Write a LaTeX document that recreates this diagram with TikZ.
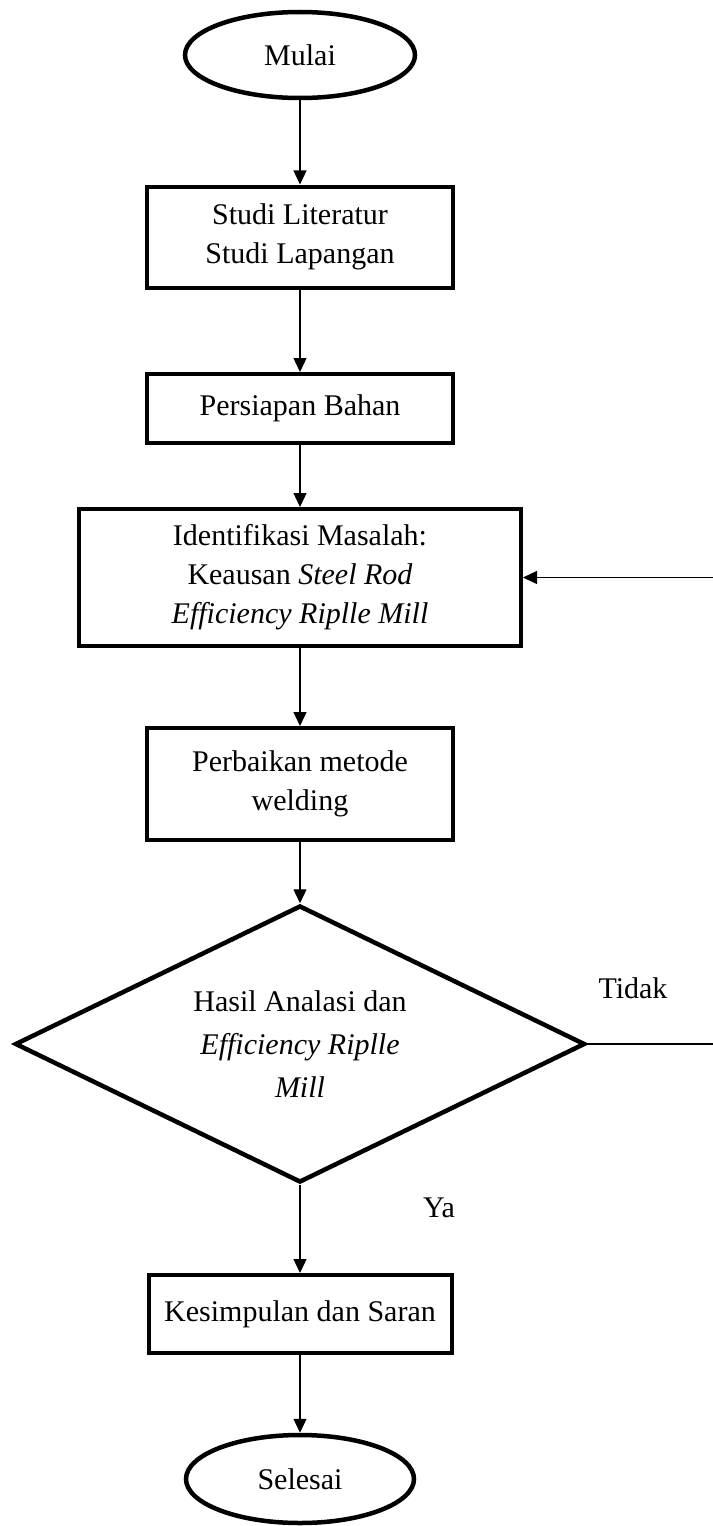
\documentclass[tikz,border=0pt]{standalone}
\usepackage{fontspec}
\setmainfont{Liberation Serif}
\usetikzlibrary{shapes.geometric,arrows.meta}
\begin{document}
\begin{tikzpicture}[x=1bp,y=-1bp,
  txt/.style={font=\fontsize{30bp}{39bp}\selectfont},
  box/.style={txt,draw,line width=4bp,rectangle,align=center,inner sep=0pt},
  term/.style={txt,draw,line width=4.5bp,ellipse,inner sep=0pt},
  decis/.style={draw,line width=4.5bp,diamond,aspect=2.04,inner sep=0pt,align=center,font=\fontsize{30bp}{43bp}\selectfont},
  flow/.style={line width=1.3bp,-{Triangle[width=13bp,length=14bp]}},
  plain/.style={line width=1.3bp}]
\useasboundingbox (0,0) rectangle (713,1526);
\node[term,minimum width=230bp,minimum height=86bp] (mulai) at (300,55) {Mulai};
\node[box,minimum width=306bp,minimum height=101bp] (b1) at (300,237) {Studi Literatur\\Studi Lapangan};
\node[box,minimum width=306bp,minimum height=69bp] (b2) at (300,408.5) {Persiapan Bahan};
\node[box,minimum width=442bp,minimum height=137bp] (b3) at (300,577.5) {Identifikasi Masalah:\\Keausan \textit{Steel Rod}\\\textit{Efficiency Riplle Mill}};
\node[box,minimum width=306bp,minimum height=112bp] (b4) at (300,784) {Perbaikan metode\\welding};
\node[decis,minimum width=570bp,minimum height=277bp] (dec) at (300,1044) {Hasil Analasi dan\\\textit{Efficiency Riplle}\\\textit{Mill}};
\node[box,minimum width=303bp,minimum height=78bp] (b5) at (300,1314) {Kesimpulan dan Saran};
\node[term,minimum width=228bp,minimum height=88bp] (selesai) at (300,1479) {Selesai};
\node[txt] (tidak) at (633,988) {Tidak};
\node[txt] (ya) at (439,1208) {Ya};
\draw[flow] (mulai.south) -- (b1.north);
\draw[flow] (b1.south) -- (b2.north);
\draw[flow] (b2.south) -- (b3.north);
\draw[flow] (b3.south) -- (b4.north);
\draw[flow] (b4.south) -- (dec.north);
\draw[flow] (dec.south) -- (b5.north);
\draw[flow] (b5.south) -- (selesai.north);
\coordinate (loopc) at (720,1044);
\draw[flow] (dec.east) -- (loopc) |- (b3.east);
\end{tikzpicture}
\end{document}
